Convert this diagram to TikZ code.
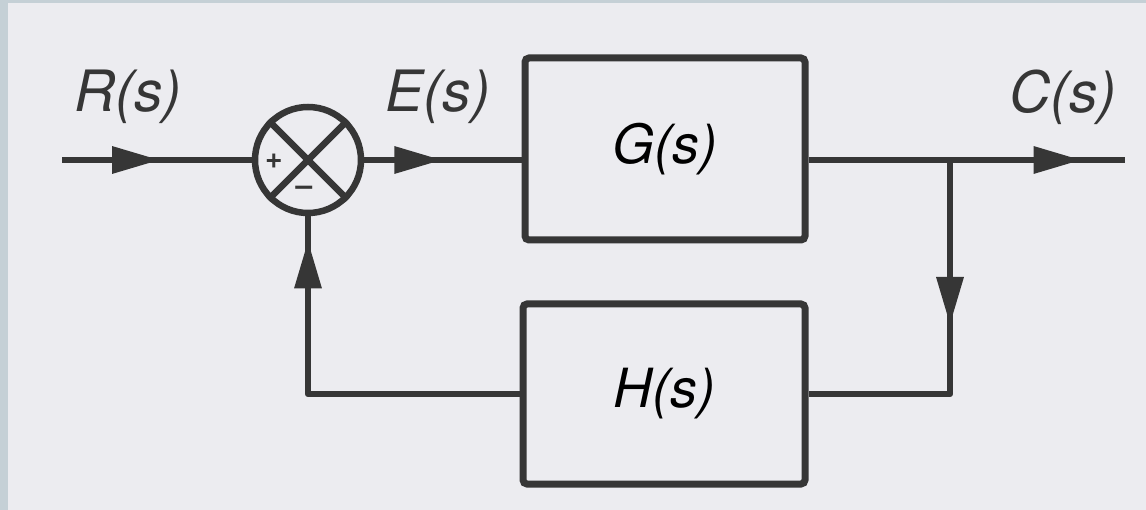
\documentclass[tikz,border=0pt]{standalone}
\usepackage{fontspec}
\setmainfont{TeX Gyre Heros}
\usetikzlibrary{arrows.meta,decorations.markings}
\definecolor{ink}{HTML}{363636}
\definecolor{paper}{HTML}{ECECF0}
\definecolor{frame}{HTML}{C5D0D6}
\begin{document}
\begin{tikzpicture}[x=1pt,y=-1pt,
  flow/.style={draw=ink,line width=6.5pt,line join=round},
  tipat/.style={postaction={decorate},
    decoration={markings,mark=at position #1 with
      {\arrow{Triangle[length=48pt,width=26pt]}}}},
  block/.style={draw=ink,line width=7pt,rounded corners=4pt,
    fill=paper,inner sep=0pt,font=\fontsize{54}{60}\selectfont\itshape},
  sumjunc/.style={draw=ink,line width=6.5pt,circle,minimum size=106pt,inner sep=0pt},
  sig/.style={text=ink,font=\fontsize{57}{62}\selectfont\itshape},
  sign/.style={text=ink,inner sep=0pt,font=\fontsize{30}{30}\selectfont\bfseries}]
  % page and frame strips
  \fill[paper] (0,0) rectangle (1146,510);
  \fill[frame] (0,0) rectangle (8,510);
  \fill[frame] (0,0) rectangle (1146,3);
  \useasboundingbox (0,0) rectangle (1146,510);

  % blocks
  \node[block,minimum width=280pt,minimum height=182pt] (G) at (665,149) {G(s)};
  \node[block,minimum width=282pt,minimum height=180pt] (H) at (664,394) {H(s)};

  % summing junction
  \node[sumjunc] (sum) at (308,160) {};
  \draw[ink,line width=6.5pt] (sum.north west) -- (sum.south east);
  \draw[ink,line width=6.5pt] (sum.north east) -- (sum.south west);
  \node[sign] (plus) at (274,161) {+};
  \node[sign] (minus) at (304,191) {–};

  % connectors
  \coordinate (in) at (62,160);
  \coordinate (out) at (1125,160);
  \coordinate (br) at (950,160);
  \draw[flow,tipat=98pt] (in) -- (sum.west);
  \draw[flow,tipat=78pt] (sum.east) -- (sum.east -| G.west);
  \draw[flow,tipat=273pt] (sum.east -| G.east) -- (out);
  \draw[flow,tipat=165pt] (br) |- (H.east);
  \draw[flow,tipat=365pt] (H.west) -| (sum.south);

  % signal labels
  \node[sig] (R) at (128,97) {R(s)};
  \node[sig] (E) at (438,97) {E(s)};
  \node[sig] (C) at (1063,97) {C(s)};
\end{tikzpicture}
\end{document}
